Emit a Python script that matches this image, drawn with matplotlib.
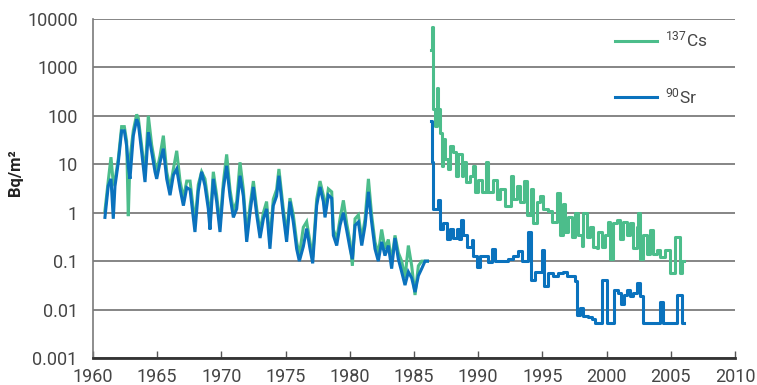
import numpy as np
import matplotlib
matplotlib.use("Agg")
import matplotlib.pyplot as plt

# ---------------- data ----------------
# 90Sr, before Chernobyl
sr_years_pre = [1960.93, 1961.19, 1961.40, 1961.58, 1961.71, 1961.97, 1962.23, 1962.44, 1962.62, 1962.75,
                1962.88, 1963.14, 1963.40, 1963.53, 1963.79, 1964.05, 1964.31, 1964.57, 1964.83, 1964.96,
                1965.22, 1965.48, 1965.74, 1966.00, 1966.26, 1966.52, 1966.78, 1967.04, 1967.30, 1967.56,
                1967.94, 1968.20, 1968.46, 1968.72, 1968.98, 1969.11, 1969.37, 1969.63, 1969.89, 1970.15,
                1970.41, 1970.67, 1970.93, 1971.19, 1971.45, 1971.71, 1971.97, 1972.23, 1972.49, 1972.75,
                1973.01, 1973.27, 1973.52, 1973.78, 1974.04, 1974.30, 1974.48, 1974.82, 1975.08, 1975.34,
                1975.60, 1975.86, 1976.07, 1976.38, 1976.64, 1976.90, 1977.11, 1977.42, 1977.68, 1977.94,
                1978.07, 1978.33, 1978.59, 1978.72, 1978.98, 1979.24, 1979.50, 1979.76, 1980.02, 1980.20,
                1980.41, 1980.67, 1980.93, 1981.19, 1981.45, 1981.70, 1981.96, 1982.22, 1982.48, 1982.74,
                1983.00, 1983.26, 1983.52, 1983.78, 1984.04, 1984.30, 1984.56, 1984.82, 1985.08, 1985.34,
                1985.60, 1985.86, 1986.05]
sr_pre = [0.8, 3.6, 5, 0.75, 3.5, 11, 49, 49, 24, 9,
          5, 39, 85, 70, 18, 4.3, 46, 18, 7, 5,
          11, 21, 5, 2.3, 6, 8, 3.1, 1.4, 3.3, 3,
          0.4, 2.8, 7, 3.6, 1.2, 0.45, 5, 1.7, 0.4, 3.1,
          9.3, 2.2, 0.8, 1.2, 5.8, 2.2, 0.25, 1, 3.4, 0.9,
          0.3, 0.75, 1.2, 0.18, 1.4, 2.2, 5.8, 0.9, 0.25, 1.7,
          0.64, 0.18, 0.1, 0.2, 0.47, 0.18, 0.09, 1.4, 3.4, 1.7,
          0.8, 2.3, 2, 0.34, 0.21, 0.55, 1, 0.43, 0.18, 0.11,
          0.55, 0.64, 0.21, 0.55, 2.7, 0.64, 0.18, 0.1, 0.25, 0.13,
          0.21, 0.07, 0.3, 0.11, 0.06, 0.032, 0.06, 0.045, 0.023, 0.05,
          0.07, 0.1, 0.1]

# 137Cs, before Chernobyl (same sampling dates)
cs_years_pre = sr_years_pre
cs_pre = [1.1, 4.6, 14, 4, 4.5, 13, 60, 60, 30, 0.85,
          13, 50, 107, 90, 24, 6, 100, 25, 10, 7,
          15, 39, 7, 3.2, 8, 19, 4.5, 2, 4.5, 4.5,
          0.6, 3.8, 7, 5, 1.6, 0.6, 7, 2.3, 0.55, 4.2,
          16, 3, 1.1, 1.7, 11, 3, 0.35, 1.4, 4.5, 1.2,
          0.4, 1, 1.7, 0.25, 1.9, 3, 8, 1.2, 0.35, 2,
          0.9, 0.25, 0.13, 0.5, 0.65, 0.25, 0.12, 1.9, 4.5, 2.3,
          1.1, 3.1, 2.7, 0.45, 0.28, 0.75, 1.8, 0.6, 0.25, 0.08,
          0.75, 0.9, 0.28, 0.75, 5, 0.9, 0.25, 0.14, 0.45, 0.18,
          0.28, 0.1, 0.34, 0.15, 0.1, 0.045, 0.21, 0.08, 0.02, 0.08,
          0.1, 0.1, 0.1]

# 90Sr, after Chernobyl
sr_years_post = [1986.30, 1986.40, 1986.45, 1986.85, 1987.03, 1987.29, 1987.55, 1987.81, 1988.07, 1988.33,
                 1988.50, 1988.67, 1988.85, 1989.10, 1989.50, 1989.62, 1989.88, 1990.14, 1990.79, 1991.05,
                 1991.31, 1992.35, 1992.74, 1993.13, 1993.39, 1993.90, 1994.12, 1994.43, 1994.95, 1995.13,
                 1995.47, 1995.85, 1996.24, 1996.63, 1996.89, 1997.28, 1997.54, 1997.67, 1997.93, 1998.19,
                 1998.58, 1998.84, 1999.09, 1999.61, 2000.00, 2000.60, 2000.91, 2001.12, 2001.35, 2001.56,
                 2001.82, 2002.08, 2002.39, 2002.60, 2002.86, 2004.16, 2004.42, 2005.45, 2005.85, 2006.05]
sr_post = [79, 11, 1.2, 1.8, 0.47, 0.6, 0.29, 0.47, 0.3, 0.47,
           0.29, 0.7, 0.34, 0.2, 0.27, 0.13, 0.076, 0.13, 0.097, 0.18,
           0.1, 0.11, 0.13, 0.16, 0.1, 0.4, 0.041, 0.06, 0.17, 0.03,
           0.056, 0.05, 0.058, 0.06, 0.05, 0.05, 0.038, 0.0078, 0.011, 0.0075,
           0.007, 0.0065, 0.0053, 0.041, 0.0053, 0.025, 0.022, 0.013, 0.02, 0.025,
           0.019, 0.022, 0.035, 0.019, 0.0053, 0.014, 0.0053, 0.02, 0.0053, 0.0053]

# 137Cs, after Chernobyl
cs_years_post = [1986.30, 1986.38, 1986.45, 1986.64, 1986.77, 1986.90, 1987.03, 1987.16, 1987.29, 1987.42,
                 1987.63, 1987.81, 1988.07, 1988.25, 1988.46, 1988.72, 1988.85, 1989.03, 1989.36, 1989.62,
                 1989.75, 1990.01, 1990.27, 1990.58, 1990.79, 1991.18, 1991.44, 1991.70, 1992.09, 1992.56,
                 1992.74, 1993.00, 1993.26, 1993.60, 1993.78, 1994.12, 1994.30, 1994.56, 1994.82, 1995.08,
                 1995.47, 1995.73, 1995.85, 1996.11, 1996.37, 1996.58, 1996.76, 1997.02, 1997.28, 1997.54,
                 1997.80, 1998.06, 1998.19, 1998.45, 1998.71, 1998.97, 1999.22, 1999.35, 1999.61, 1999.87,
                 2000.13, 2000.26, 2000.52, 2000.78, 2001.04, 2001.30, 2001.56, 2001.82, 2002.08, 2002.34,
                 2002.47, 2002.60, 2002.86, 2003.12, 2003.38, 2003.64, 2003.90, 2004.16, 2004.55, 2004.94,
                 2005.30, 2005.70, 2005.85, 2006.00]
cs_post = [2300, 7000, 137, 62, 380, 137, 45, 9.4, 33, 13,
           8, 24, 18, 5.8, 16, 5.8, 11, 4.3, 5.8, 9.4,
           2.7, 4.8, 2.7, 11, 2.7, 4.8, 1.9, 3.1, 1.4, 5.8,
           1.9, 3.5, 1.7, 4.5, 0.88, 3.1, 0.6, 1.7, 2.2, 1.2,
           1.1, 0.65, 0.64, 2.5, 0.34, 1.5, 0.4, 0.8, 0.31, 1,
           0.34, 0.21, 1, 0.31, 0.5, 0.2, 0.19, 0.4, 0.2, 0.34,
           0.64, 0.11, 0.6, 0.7, 0.29, 0.64, 0.34, 0.6, 0.19, 0.5,
           1, 0.11, 0.34, 0.14, 0.45, 0.14, 0.17, 0.12, 0.17, 0.056,
           0.32, 0.056, 0.1, 0.1]

x_ticks = [1960, 1965, 1970, 1975, 1980, 1985, 1990, 1995, 2000, 2005, 2010]
y_ticks = [0.001, 0.01, 0.1, 1, 10, 100, 1000, 10000]
y_tick_labels = ["0.001", "0.01", "0.1", "1", "10", "100", "1000", "10000"]
label_cs = r"$\mathregular{^{137}}$Cs"
label_sr = r"$\mathregular{^{90}}$Sr"
y_label = "Bq/m²"

# ---------------- style ----------------
GREEN = "#4cbd8b"
BLUE = "#0a72bd"
TXT = "#454545"
FONT = "Roboto"
plt.rcParams["font.family"] = [FONT, "DejaVu Sans"]
plt.rcParams["mathtext.fontset"] = "custom"
plt.rcParams["mathtext.rm"] = FONT

W, H = 757, 385
fig = plt.figure(figsize=(W / 100, H / 100), dpi=100)
left, right, top, bottom = 93, 735, 19, 358
ax = fig.add_axes([left / W, 1 - bottom / H, (right - left) / W, (bottom - top) / H])

ax.set_yscale("log")
ax.set_xlim(1960, 2010)
ax.set_ylim(0.001, 10000)

lw = 2.2
ax.plot(cs_years_pre, cs_pre, color=GREEN, lw=lw, label=label_cs, zorder=3, solid_joinstyle="miter")
ax.step(cs_years_post, cs_post, where="post", color=GREEN, lw=lw, zorder=3)
ax.plot(sr_years_pre, sr_pre, color=BLUE, lw=lw, label=label_sr, zorder=4, solid_joinstyle="miter")
ax.step(sr_years_post, sr_post, where="post", color=BLUE, lw=lw, zorder=4)

ax.set_yticks(y_ticks)
ax.set_yticklabels(y_tick_labels)
ax.yaxis.set_minor_locator(matplotlib.ticker.NullLocator())
ax.set_xticks(x_ticks)
ax.set_xticklabels([str(t) for t in x_ticks])

ax.grid(axis="y", which="major", color="#858585", lw=1.4, zorder=1)
ax.grid(axis="x", visible=False)

for s in ["top", "right"]:
    ax.spines[s].set_visible(False)
ax.spines["left"].set_color("#7a7a7a")
ax.spines["left"].set_linewidth(1.2)
ax.spines["bottom"].set_color("#333333")
ax.spines["bottom"].set_linewidth(2.0)
ax.spines["bottom"].set_zorder(5)

ax.tick_params(axis="y", length=0, pad=11, labelsize=13, labelcolor=TXT)
ax.tick_params(axis="x", direction="in", length=5, width=1, color="#555555",
               pad=7, labelsize=13, labelcolor=TXT)

fig.text(16 / W, 1 - 173 / H, y_label, rotation=90, ha="center", va="center",
         fontsize=12, fontweight="bold", color="#222222")

leg = ax.legend(loc="center left", bbox_to_anchor=(615 / W, 1 - 68 / H),
                bbox_transform=fig.transFigure, frameon=False, borderpad=0, borderaxespad=0,
                handlelength=2.4, handletextpad=0.5, labelspacing=2.1,
                prop={"family": FONT, "size": 12.5})
for t in leg.get_texts():
    t.set_color(TXT)

fig.savefig("out.png", dpi=100)
